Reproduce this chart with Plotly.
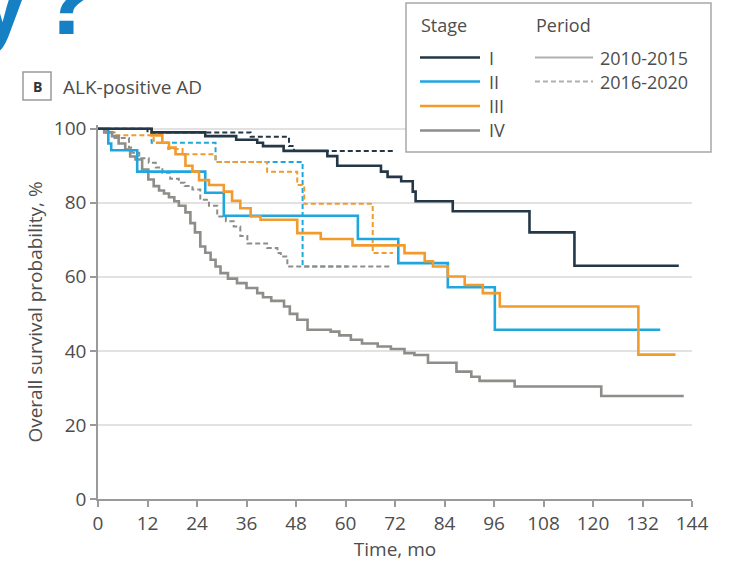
import plotly.graph_objects as go

# ---------------- data ----------------
x_ticks = [0, 12, 24, 36, 48, 60, 72, 84, 96, 108, 120, 132, 144]
y_ticks = [0, 20, 40, 60, 80, 100]

stage_names = ["I", "II", "III", "IV"]
period_names = ["2010-2015", "2016-2020"]

# Stage I
s1_early_t = [0, 13, 26, 33.5, 38.6, 40, 45, 55.6, 58, 68.6, 70.2, 73.5, 76.3, 77, 86, 104.6, 115.5, 140.8]
s1_early_s = [100, 99, 98, 97, 96.2, 95.3, 94, 92.6, 90, 88.4, 87, 85.8, 83, 80.4, 77.7, 72, 63, 63]
s1_late_t = [0, 12, 37, 46.3, 47.5, 72]
s1_late_s = [100, 99, 97.8, 95.3, 94, 94]

# Stage II
s2_early_t = [0, 2.5, 3.2, 9.5, 26, 30.5, 63, 72.8, 84.8, 96.2, 136.3]
s2_early_s = [100, 96, 94.2, 88.4, 82.7, 76.5, 70.2, 63.7, 57.2, 45.7, 45.7]
s2_late_t = [0, 13, 28.5, 49.6, 60.5]
s2_late_s = [100, 96.2, 91, 62.8, 62.8]

# Stage III
s3_early_t = [0, 13, 15.6, 17.2, 18.8, 21.2, 22.9, 24.5, 26.9, 30.5, 32.5, 34.5, 37, 39.4,
              48.3, 54, 61.7, 74.3, 79.2, 81.2, 84.8, 88.9, 93.3, 97.4, 131, 140]
s3_early_s = [100, 98.2, 96.2, 94.9, 93.1, 90, 88.4, 86.1, 84.8, 83, 80.5, 78.5, 76.3, 75.4,
              71.8, 70.2, 68.5, 66.4, 64.2, 62.8, 60.1, 57.8, 55.6, 52, 39, 39]
s3_late_t = [0, 3.4, 13.5, 17, 20.5, 28.5, 41, 48.3, 50, 66.6, 71.5]
s3_late_s = [100, 98.2, 96.2, 94.5, 93.1, 91, 88.4, 84.8, 79.7, 66.4, 66.4]

# Stage IV
s4_early_t = [0, 1.5, 3.4, 5, 6.6, 7.8, 9.1, 10.7, 12.2, 13.5, 14.8, 16, 17.2, 18.5, 19.6, 21.2,
              22.4, 23.5, 24.8, 26, 27.3, 28.5, 29.7, 31.5, 33.7, 36, 38.6, 40, 42, 45.1, 46.5,
              48.3, 50.8, 56.4, 58.5, 61.3, 64, 67.8, 71, 74.3, 76.7, 80, 86.9, 90.5, 92.5, 101,
              122, 142]
s4_early_s = [100, 99, 98, 96, 94.4, 92.5, 91.7, 89, 86.3, 84.5, 83.3, 82.5, 81.5, 80.4, 79.2, 77.4,
              74.5, 72, 68.2, 66.5, 64.6, 62.8, 61, 59.5, 58.3, 57, 55.6, 54.5, 53.5, 52, 50,
              48.4, 45.7, 45.2, 44.2, 43, 42, 41.2, 40.5, 39.4, 38.9, 36.8, 34.4, 33, 31.9, 30.4,
              27.8, 27.8]
s4_late_t = [0, 2, 4, 7.5, 8.3, 10, 12.3, 14, 15.6, 17.5, 19.6, 21, 22.9, 24.8, 26.9, 28.9, 31,
             32.9, 34.5, 36.2, 41, 43.5, 44.3, 45.9, 71]
s4_late_s = [100, 99, 97.5, 94.9, 93.5, 92, 90.8, 89.5, 88.1, 86.5, 85.4, 84.5, 83.6, 80.8, 79.2,
             76.3, 75, 73.6, 71, 69, 67.8, 66.4, 65.5, 62.8, 62.8]

stage_colors = ["#243746", "#1fa6df", "#f39a2c", "#8d8d89"]

# ---------------- figure ----------------
FONT = "Open Sans, sans-serif"
TXT = "#4d4d4d"

W, H = 733, 567
L, R, T, B = 98, 41, 125, 68


def px(xp):
    return (xp - L) / (W - L - R)


def py(yp):
    return (H - B - yp) / (H - T - B)


fig = go.Figure()

series = [
    (s1_late_t, s1_late_s, 0, "dash"), (s2_late_t, s2_late_s, 1, "dash"),
    (s3_late_t, s3_late_s, 2, "dash"), (s4_late_t, s4_late_s, 3, "dash"),
    (s4_early_t, s4_early_s, 3, "solid"), (s2_early_t, s2_early_s, 1, "solid"),
    (s3_early_t, s3_early_s, 2, "solid"), (s1_early_t, s1_early_s, 0, "solid"),
]
for t, s, ci, dash in series:
    fig.add_trace(go.Scatter(
        x=t, y=s, mode="lines", line_shape="hv",
        line=dict(color=stage_colors[ci], width=2.6 if dash == "solid" else 2.0,
                  dash="solid" if dash == "solid" else "5px,3px"),
        showlegend=False, hoverinfo="skip"))

fig.update_layout(
    width=W, height=H, margin=dict(l=L, r=R, t=T, b=B, autoexpand=False),
    paper_bgcolor="white", plot_bgcolor="white", showlegend=False,
    font=dict(family=FONT, size=20, color=TXT),
    xaxis=dict(range=[0, 144], tickvals=x_ticks, ticktext=[str(v) for v in x_ticks],
               automargin=False,
               showgrid=False, zeroline=False, showline=True, linecolor="#9a9a9a", linewidth=1.5,
               ticks="outside", ticklen=6, tickcolor="#9a9a9a", tickwidth=1.5,
               tickfont=dict(family=FONT, size=19, color=TXT),
               title=dict(text="Time, mo", font=dict(family=FONT, size=19, color=TXT), standoff=6)),
    yaxis=dict(range=[0, 101], tickvals=y_ticks, ticktext=[str(v) for v in y_ticks],
               automargin=False,
               showgrid=True, gridcolor="#e2e2e2", gridwidth=1.5, zeroline=False,
               showline=True, linecolor="#9a9a9a", linewidth=1.5,
               ticks="outside", ticklen=6, tickcolor="#9a9a9a", tickwidth=1.5,
               tickfont=dict(family=FONT, size=19, color=TXT),
               title=dict(text="Overall survival probability, %",
                          font=dict(family=FONT, size=19, color=TXT), standoff=6)),
)

shapes = []
annotations = []

# big cut-off slide title in the top-left corner
annotations.append(dict(xref="paper", yref="paper", x=px(-28), y=py(-1), xanchor="left",
                        yanchor="middle", showarrow=False, text="<b>y\u200a?</b>",
                        font=dict(family="Liberation Sans, Arial, sans-serif", size=100, color="#1680c4")))

# panel label
shapes.append(dict(type="rect", xref="paper", yref="paper", x0=px(23), x1=px(51), y0=py(100), y1=py(72),
                   line=dict(color="#9a9a9a", width=1.5), fillcolor="white"))
annotations.append(dict(xref="paper", yref="paper", x=px(37), y=py(86), xanchor="center", yanchor="middle",
                        showarrow=False, text="<b>B</b>", font=dict(family=FONT, size=14, color="#333")))
annotations.append(dict(xref="paper", yref="paper", x=px(61), y=py(87), xanchor="left", yanchor="middle",
                        showarrow=False, text="ALK-positive AD", font=dict(family=FONT, size=19, color=TXT)))

# legend box
shapes.append(dict(type="rect", xref="paper", yref="paper", x0=px(406), x1=px(711), y0=py(152), y1=py(3),
                   line=dict(color="#a8a8a8", width=1.5), fillcolor="white", layer="above"))
annotations.append(dict(xref="paper", yref="paper", x=px(419), y=py(25), xanchor="left", yanchor="middle",
                        showarrow=False, text="Stage", font=dict(family=FONT, size=18, color=TXT)))
annotations.append(dict(xref="paper", yref="paper", x=px(534), y=py(25), xanchor="left", yanchor="middle",
                        showarrow=False, text="Period", font=dict(family=FONT, size=18, color=TXT)))
rows = [57.5, 81.5, 106, 130.5]
for i, name in enumerate(stage_names):
    shapes.append(dict(type="line", xref="paper", yref="paper", x0=px(420), x1=px(480),
                       y0=py(rows[i]), y1=py(rows[i]),
                       line=dict(color=stage_colors[i], width=2.6), layer="above"))
    annotations.append(dict(xref="paper", yref="paper", x=px(487), y=py(rows[i]), xanchor="left",
                            yanchor="middle", showarrow=False, text=name,
                            font=dict(family=FONT, size=18, color=TXT)))
for i, name in enumerate(period_names):
    shapes.append(dict(type="line", xref="paper", yref="paper", x0=px(535), x1=px(593),
                       y0=py(rows[i]), y1=py(rows[i]),
                       line=dict(color="#b0b0b0", width=1.8, dash="solid" if i == 0 else "5px,3px"),
                       layer="above"))
    annotations.append(dict(xref="paper", yref="paper", x=px(598), y=py(rows[i]), xanchor="left",
                            yanchor="middle", showarrow=False, text=name,
                            font=dict(family=FONT, size=18, color=TXT)))

fig.update_layout(shapes=shapes, annotations=annotations)
fig.write_html("out.html", config={"displayModeBar": False},
               post_script="document.body.style.margin='0px';")
